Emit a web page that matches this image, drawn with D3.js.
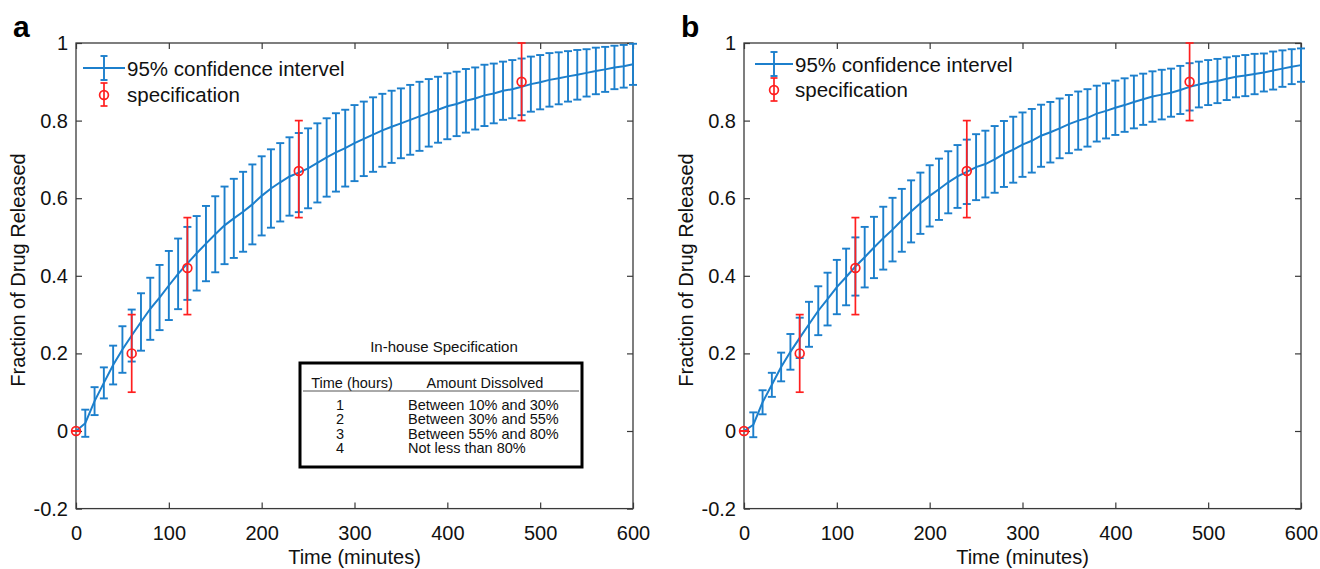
<!DOCTYPE html>
<html>
<head>
<meta charset="utf-8">
<script src="https://cdn.jsdelivr.net/npm/d3@7"></script>
<style>
  html, body { margin: 0; padding: 0; background: #fff; }
  svg { display: block; font-family: "Liberation Sans", Arial, Helvetica, sans-serif; }
</style>
</head>
<body>
<svg id="chart" width="1320" height="569"></svg>
<script>
// Sampling times (minutes) of the simulated dissolution profile
const timeMin = [0, 10, 20, 30, 40, 50, 60, 70, 80, 90, 100, 110, 120, 130, 140, 150, 160, 170, 180, 190,
  200, 210, 220, 230, 240, 250, 260, 270, 280, 290, 300, 310, 320, 330, 340, 350, 360, 370, 380, 390,
  400, 410, 420, 430, 440, 450, 460, 470, 480, 490, 500, 510, 520, 530, 540, 550, 560, 570, 580, 590, 600];

// Panel a: mean fraction released and 95% CI half-width
const meanA = [0, 0.020, 0.077, 0.124, 0.170, 0.210, 0.246, 0.281, 0.315, 0.344, 0.375, 0.405, 0.432, 0.458, 0.483,
  0.507, 0.530, 0.548, 0.565, 0.584, 0.606, 0.625, 0.641, 0.656, 0.666, 0.677, 0.691, 0.705, 0.718, 0.729,
  0.742, 0.753, 0.764, 0.775, 0.784, 0.793, 0.802, 0.811, 0.820, 0.828, 0.837, 0.843, 0.851, 0.857, 0.865,
  0.870, 0.877, 0.881, 0.887, 0.894, 0.899, 0.905, 0.909, 0.914, 0.918, 0.923, 0.928, 0.932, 0.937, 0.940, 0.945];
const halfA = [0, 0.035, 0.036, 0.040, 0.050, 0.060, 0.067, 0.074, 0.080, 0.084, 0.089, 0.091, 0.094, 0.096, 0.097,
  0.098, 0.100, 0.102, 0.103, 0.103, 0.102, 0.101, 0.101, 0.101, 0.102, 0.103, 0.102, 0.101, 0.101, 0.099,
  0.098, 0.096, 0.096, 0.094, 0.093, 0.090, 0.090, 0.089, 0.087, 0.085, 0.085, 0.083, 0.082, 0.080, 0.079,
  0.077, 0.075, 0.075, 0.073, 0.071, 0.070, 0.069, 0.067, 0.065, 0.064, 0.061, 0.060, 0.058, 0.056, 0.055, 0.053];

// Panel b: mean fraction released and 95% CI half-width
const meanB = [0, 0.016, 0.074, 0.119, 0.165, 0.204, 0.240, 0.275, 0.310, 0.340, 0.371, 0.397, 0.424, 0.448, 0.473,
  0.497, 0.519, 0.543, 0.566, 0.587, 0.606, 0.623, 0.641, 0.656, 0.668, 0.680, 0.688, 0.700, 0.714, 0.725,
  0.738, 0.748, 0.761, 0.770, 0.780, 0.791, 0.800, 0.807, 0.818, 0.825, 0.833, 0.840, 0.848, 0.855, 0.862,
  0.867, 0.872, 0.879, 0.887, 0.893, 0.898, 0.902, 0.908, 0.913, 0.916, 0.920, 0.924, 0.929, 0.934, 0.939, 0.943];
const halfB = [0, 0.032, 0.031, 0.031, 0.037, 0.046, 0.052, 0.058, 0.063, 0.068, 0.070, 0.073, 0.075, 0.078, 0.079,
  0.081, 0.082, 0.081, 0.080, 0.079, 0.079, 0.079, 0.080, 0.081, 0.083, 0.085, 0.086, 0.086, 0.085, 0.085,
  0.083, 0.082, 0.080, 0.078, 0.077, 0.075, 0.075, 0.074, 0.072, 0.071, 0.070, 0.069, 0.068, 0.066, 0.065,
  0.064, 0.062, 0.062, 0.061, 0.059, 0.058, 0.057, 0.055, 0.053, 0.053, 0.052, 0.049, 0.049, 0.047, 0.045, 0.043];

// In-house specification limits
const specTime  = [0, 60, 120, 240, 480];
const specValue = [0, 0.20, 0.42, 0.67, 0.90];
const specLow   = [0, 0.10, 0.30, 0.55, 0.80];
const specHigh  = [0, 0.30, 0.55, 0.80, 1.00];

// Axis ticks and labels
const xTicks = [0, 100, 200, 300, 400, 500, 600];
const yTicks = [-0.2, 0, 0.2, 0.4, 0.6, 0.8, 1];
const xTitle = "Time (minutes)";
const yTitle = "Fraction of Drug Released";
const legendLabels = ["95% confidence intervel", "specification"];

// Specification table text
const tableTitle = "In-house Specification";
const tableHeader = ["Time (hours)", "Amount Dissolved"];
const tableHours = ["1", "2", "3", "4"];
const tableAmount = ["Between 10% and 30%", "Between 30% and 55%", "Between 55% and 80%", "Not less than 80%"];

const BLUE = "#1c7fcc";
const RED = "#ff1f1f";
const AXIS = "#3a3a3a";
const TEXT = "#111";

const svg = d3.select("#chart");

function errorBar(g, x, y, t, lo, hi, color, cap, width) {
  const px = x(t);
  g.append("line").attr("x1", px).attr("x2", px).attr("y1", y(lo)).attr("y2", y(hi))
    .attr("stroke", color).attr("stroke-width", width);
  [lo, hi].forEach(v => {
    g.append("line").attr("x1", px - cap).attr("x2", px + cap).attr("y1", y(v)).attr("y2", y(v))
      .attr("stroke", color).attr("stroke-width", width);
  });
}

function drawPanel(p) {
  const x = d3.scaleLinear().domain([0, 600]).range([p.left, p.right]);
  const y = d3.scaleLinear().domain([-0.2, 1]).range([p.bottom, p.top]);
  const g = svg.append("g");
  const fmt = d => String(d);

  // Axes with inward ticks on all four sides
  const ax = [
    g.append("g").attr("transform", `translate(0,${p.bottom})`)
      .call(d3.axisBottom(x).tickValues(xTicks).tickFormat(fmt).tickSizeInner(-6).tickSizeOuter(0).tickPadding(17)),
    g.append("g").attr("transform", `translate(0,${p.top})`)
      .call(d3.axisTop(x).tickValues(xTicks).tickFormat("").tickSizeInner(-6).tickSizeOuter(0)),
    g.append("g").attr("transform", `translate(${p.left},0)`)
      .call(d3.axisLeft(y).tickValues(yTicks).tickFormat(fmt).tickSizeInner(-6).tickSizeOuter(0).tickPadding(8)),
    g.append("g").attr("transform", `translate(${p.right},0)`)
      .call(d3.axisRight(y).tickValues(yTicks).tickFormat("").tickSizeInner(-6).tickSizeOuter(0))
  ];
  ax.forEach(a => {
    a.select(".domain").remove();
    a.selectAll(".tick line").attr("stroke", AXIS).attr("stroke-width", 1.2);
    a.selectAll(".tick text").attr("fill", TEXT).style("font-size", "20px")
      .style("font-family", "'Liberation Sans', Arial, sans-serif");
  });
  g.append("rect").attr("x", p.left).attr("y", p.top)
    .attr("width", p.right - p.left).attr("height", p.bottom - p.top)
    .attr("fill", "none").attr("stroke", AXIS).attr("stroke-width", 1.3);

  // Axis titles
  g.append("text").attr("x", (p.left + p.right) / 2).attr("y", 564)
    .attr("text-anchor", "middle").attr("fill", TEXT).style("font-size", "20px").text(xTitle);
  g.append("text").attr("transform", `translate(${p.left - 51},270) rotate(-90)`)
    .attr("text-anchor", "middle").attr("fill", TEXT).style("font-size", "20px").text(yTitle);

  // Panel letter
  g.append("text").attr("x", p.left - 63).attr("y", 37)
    .attr("fill", "#000").style("font-size", "30px").style("font-weight", "bold").text(p.letter);

  // Confidence interval error bars and mean curve
  const ci = g.append("g");
  timeMin.forEach((t, i) => {
    if (p.half[i] > 0) errorBar(ci, x, y, t, p.mean[i] - p.half[i], p.mean[i] + p.half[i], BLUE, 4, 1.9);
  });
  ci.append("path").datum(timeMin.map((t, i) => [t, p.mean[i]]))
    .attr("d", d3.line().x(d => x(d[0])).y(d => y(d[1])))
    .attr("fill", "none").attr("stroke", BLUE).attr("stroke-width", 2);

  // Specification points with limits
  const sp = g.append("g");
  specTime.forEach((t, i) => {
    errorBar(sp, x, y, t, specLow[i], specHigh[i], RED, 4, 1.7);
    sp.append("circle").attr("cx", x(t)).attr("cy", y(specValue[i])).attr("r", 4.4)
      .attr("fill", "none").attr("stroke", RED).attr("stroke-width", 1.7);
  });

  // Legend
  const L = p.legend;
  const lg = g.append("g");
  lg.append("line").attr("x1", L.x0).attr("x2", L.x1).attr("y1", L.y1).attr("y2", L.y1)
    .attr("stroke", BLUE).attr("stroke-width", 2);
  const lx = (L.x0 + L.x1) / 2;
  [[L.y1 - 12, L.y1 + 12, BLUE, 1.9], [L.y2 - 12, L.y2 + 11, RED, 1.7]].forEach(([a, b, c, w]) => {
    lg.append("line").attr("x1", lx).attr("x2", lx).attr("y1", a).attr("y2", b).attr("stroke", c).attr("stroke-width", w);
    [a, b].forEach(v => lg.append("line").attr("x1", lx - 3.5).attr("x2", lx + 3.5).attr("y1", v).attr("y2", v)
      .attr("stroke", c).attr("stroke-width", w));
  });
  lg.append("circle").attr("cx", lx).attr("cy", L.y2).attr("r", 4.4)
    .attr("fill", "none").attr("stroke", RED).attr("stroke-width", 1.7);
  lg.append("text").attr("x", L.x1 + 2).attr("y", L.y1 + 7.5).attr("fill", TEXT)
    .style("font-size", "20.5px").text(legendLabels[0]);
  lg.append("text").attr("x", L.x1 + 2).attr("y", L.y2 + 7).attr("fill", TEXT)
    .style("font-size", "20.5px").text(legendLabels[1]);

  return { x, y, g };
}

const panelA = drawPanel({
  left: 76, right: 633, top: 43, bottom: 508.6, letter: "a",
  mean: meanA, half: halfA, legend: { x0: 83, x1: 125, y1: 68, y2: 95 }
});
drawPanel({
  left: 744, right: 1301, top: 43, bottom: 508.6, letter: "b",
  mean: meanB, half: halfB, legend: { x0: 755, x1: 793, y1: 64, y2: 90 }
});

// Specification table inset in panel a
const tb = panelA.g.append("g").attr("fill", TEXT).style("font-size", "14.5px");
tb.append("text").attr("x", 444).attr("y", 352).attr("text-anchor", "middle")
  .style("font-size", "15px").text(tableTitle);
tb.append("rect").attr("x", 300).attr("y", 363).attr("width", 282).attr("height", 104)
  .attr("fill", "#fff").attr("stroke", "#000").attr("stroke-width", 3);
tb.append("text").attr("x", 352).attr("y", 388).attr("text-anchor", "middle").text(tableHeader[0]);
tb.append("text").attr("x", 485).attr("y", 388).attr("text-anchor", "middle").text(tableHeader[1]);
tb.append("line").attr("x1", 303).attr("x2", 579).attr("y1", 391).attr("y2", 391)
  .attr("stroke", "#555").attr("stroke-width", 1);
tableHours.forEach((h, i) => {
  const by = 410 + i * 14.3;
  tb.append("text").attr("x", 340).attr("y", by).attr("text-anchor", "middle").text(h);
  tb.append("text").attr("x", 408).attr("y", by).text(tableAmount[i]);
});
</script>
</body>
</html>
